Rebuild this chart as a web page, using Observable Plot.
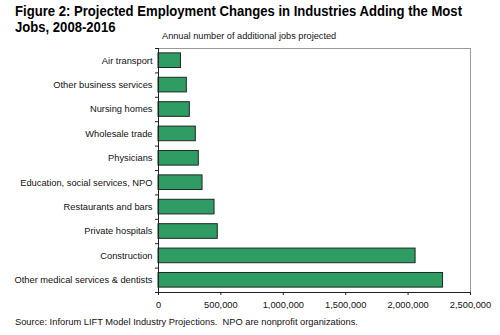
<!DOCTYPE html>
<html>
<head>
<meta charset="utf-8">
<script src="https://cdn.jsdelivr.net/npm/d3@7"></script>
<script src="https://cdn.jsdelivr.net/npm/@observablehq/plot@0.6"></script>
<style>
  html, body { margin: 0; padding: 0; background: #fff; }
  #wrap { position: relative; width: 500px; height: 335px; overflow: hidden; font-family: "Liberation Sans", Arial, sans-serif; }
  .t { position: absolute; white-space: nowrap; color: #000; }
  #title { left: 15px; top: 3px; font-weight: bold; font-size: 14.4px; line-height: 16px; transform: scaleX(0.91); transform-origin: 0 0; }
  #sub { left: 162px; top: 31px; font-size: 9.2px; color: #111; }
  #src { left: 15px; top: 317px; font-size: 9.3px; color: #111; }
  #chart { position: absolute; left: 0; top: 0; }
</style>
</head>
<body>
<div id="wrap">
  <div id="title" class="t">Figure 2: Projected Employment Changes in Industries Adding the Most<br>Jobs, 2008-2016</div>
  <div id="sub" class="t">Annual number of additional jobs projected</div>
  <div id="chart"></div>
  <div id="src" class="t">Source: Inforum LIFT Model Industry Projections.&nbsp; NPO are nonprofit organizations.</div>
</div>
<script>
const industries = [
  "Air transport",
  "Other business services",
  "Nursing homes",
  "Wholesale trade",
  "Physicians",
  "Education, social services, NPO",
  "Restaurants and bars",
  "Private hospitals",
  "Construction",
  "Other medical services & dentists"
];
const jobs = [180000, 227000, 251000, 299000, 323000, 353000, 449000, 475000, 2060000, 2280000];
const xTicks = [0, 500000, 1000000, 1500000, 2000000, 2500000];

const data = industries.map((name, i) => ({name, i, value: jobs[i]}));
const n = industries.length;
const half = 0.3; // half bar thickness in band units
const boundaries = d3.range(n + 1).map(k => k - 0.5);

const chart = Plot.plot({
  width: 500,
  height: 335,
  marginTop: 48,
  marginBottom: 43,
  marginLeft: 158,
  marginRight: 30,
  style: {fontFamily: "'Liberation Sans', Arial, sans-serif", fontSize: "9.3px", color: "#111", background: "transparent"},
  x: {domain: [0, 2500000], label: null},
  y: {domain: [-0.5, n - 0.5], reverse: true, label: null},
  marks: [
    Plot.ruleY([-0.5], {stroke: "#999", strokeWidth: 1}),
    Plot.ruleX([2500000], {stroke: "#999", strokeWidth: 1}),
    Plot.rectX(data, {x1: 0, x2: "value", y1: d => d.i - half, y2: d => d.i + half, fill: "#2f9c63", stroke: "#1e2a22", strokeWidth: 1}),
    Plot.ruleX([0], {stroke: "#222", strokeWidth: 1}),
    Plot.ruleY([n - 0.5], {stroke: "#222", strokeWidth: 1}),
    Plot.axisY({ticks: boundaries, tickSize: 3, tickFormat: () => "", stroke: "#222", label: null}),
    Plot.axisY({ticks: d3.range(n), tickSize: 0, tickPadding: 6, tickFormat: i => industries[i], label: null, fill: "#111"}),
    Plot.axisX({ticks: xTicks, tickSize: 3, tickPadding: 6, tickFormat: d3.format(","), label: null, stroke: "#222", fill: "#111"})
  ]
});
document.getElementById("chart").appendChild(chart);
</script>
</body>
</html>
